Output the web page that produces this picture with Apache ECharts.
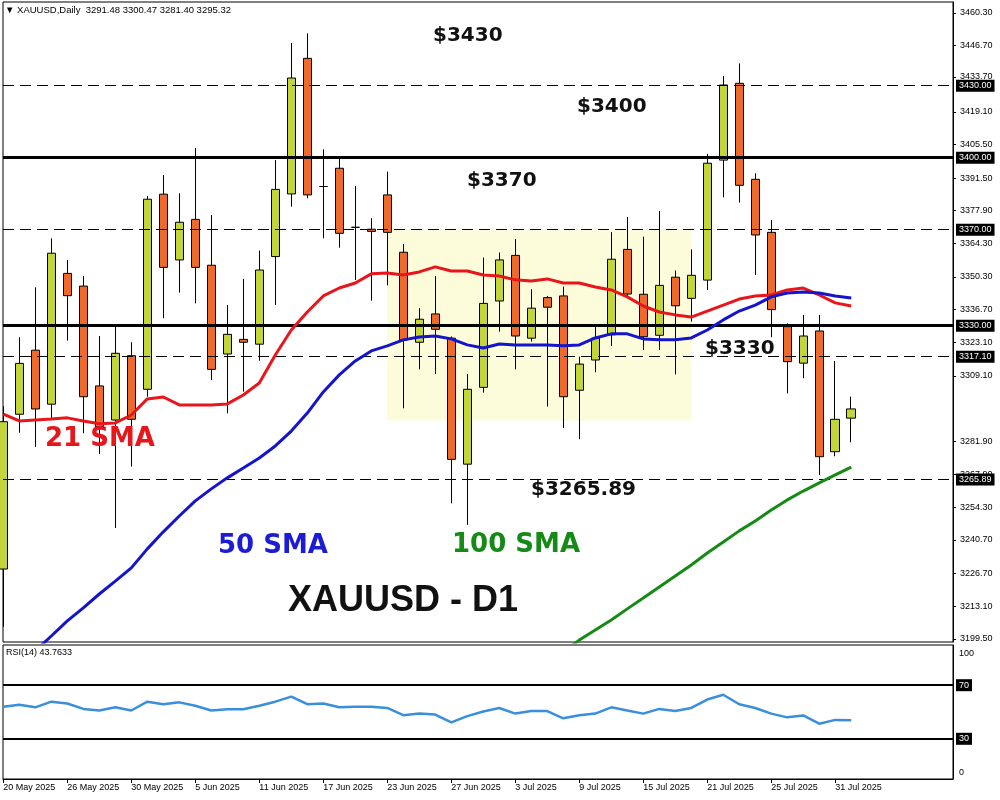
<!DOCTYPE html>
<html><head><meta charset="utf-8">
<script src="https://cdn.jsdelivr.net/npm/echarts@6/dist/echarts.min.js"></script>
<style>html,body{margin:0;padding:0;background:#fff}#c{width:1000px;height:800px}</style>
</head><body><div id="c"></div>
<script>
// ---------- data ----------
const dates = ['20 May 2025','21 May 2025','22 May 2025','23 May 2025','26 May 2025','27 May 2025','28 May 2025','29 May 2025','30 May 2025',
 '2 Jun 2025','3 Jun 2025','4 Jun 2025','5 Jun 2025','6 Jun 2025','9 Jun 2025','10 Jun 2025','11 Jun 2025','12 Jun 2025','13 Jun 2025',
 '16 Jun 2025','17 Jun 2025','18 Jun 2025','19 Jun 2025','20 Jun 2025','23 Jun 2025','24 Jun 2025','25 Jun 2025','26 Jun 2025','27 Jun 2025',
 '30 Jun 2025','1 Jul 2025','2 Jul 2025','3 Jul 2025','4 Jul 2025','7 Jul 2025','8 Jul 2025','9 Jul 2025','10 Jul 2025','11 Jul 2025',
 '14 Jul 2025','15 Jul 2025','16 Jul 2025','17 Jul 2025','18 Jul 2025','21 Jul 2025','22 Jul 2025','23 Jul 2025','24 Jul 2025','25 Jul 2025',
 '28 Jul 2025','29 Jul 2025','30 Jul 2025','31 Jul 2025','1 Aug 2025'];
const dateLabelIdx = [0,4,8,12,16,20,24,28,32,36,40,44,48,52];

const opens  = [3228.6,3293.1,3319.8,3297.3,3351.8,3346.5,3304.9,3290.7,3317.5,3303.5,3384.8,3357.4,3374.3,3355.2,3318.2,3324.3,3322.3,3358.8,3384.9,3441.4,
 3388.0,3395.6,3371.0,3370.2,3384.5,3360.6,3323.1,3334.9,3324.8,3272.3,3304.3,3340.3,3359.3,3324.8,3341.7,3342.4,3303.1,3315.7,3326.2,3361.8,
 3343.1,3326.0,3350.2,3341.4,3349.0,3399.0,3431.0,3391.0,3368.9,3329.6,3314.4,3327.8,3277.5,3291.48];
const closes = [3290.0,3314.3,3295.3,3360.2,3342.5,3300.4,3287.9,3318.5,3291.0,3382.7,3354.3,3373.1,3354.3,3311.8,3326.4,3323.1,3353.2,3386.8,3433.2,3384.5,
 3388.0,3368.5,3371.0,3369.3,3368.9,3324.0,3332.7,3328.5,3274.3,3303.5,3339.3,3357.4,3325.7,3337.3,3337.7,3300.4,3314.0,3324.8,3357.7,3343.2,
 3325.4,3346.8,3338.3,3351.0,3397.7,3430.3,3388.5,3367.8,3336.7,3315.0,3325.7,3275.4,3291.0,3295.32];
const lows   = [3204.5,3285.4,3279.5,3290.7,3323.8,3285.2,3276.5,3245.7,3271.3,3300.4,3333.1,3343.8,3339.3,3307.3,3293.5,3302.5,3315.4,3338.6,3379.6,3383.1,
 3366.4,3362.5,3349.0,3340.4,3346.8,3295.6,3311.8,3309.9,3256.0,3247.0,3302.1,3327.5,3311.8,3323.4,3296.3,3287.3,3282.7,3310.6,3321.5,3342.4,
 3319.9,3319.9,3309.7,3331.7,3344.9,3383.5,3381.3,3351.1,3325.2,3301.8,3308.1,3267.8,3275.6,3281.40];
const highs  = [3296.5,3325.2,3346.0,3366.4,3357.4,3350.7,3325.7,3329.6,3323.1,3384.0,3392.8,3385.2,3404.0,3376.1,3338.6,3349.5,3361.3,3399.0,3447.8,3451.8,
 3403.5,3399.8,3388.2,3374.8,3394.2,3364.1,3337.3,3350.7,3325.5,3309.9,3358.4,3360.5,3366.1,3345.2,3342.4,3346.3,3317.1,3329.4,3369.0,3375.3,
 3367.1,3377.8,3353.0,3361.8,3401.6,3434.1,3439.3,3393.5,3374.0,3331.0,3334.5,3334.5,3315.3,3300.47];

const sma21 = [3293.2,3290.3,3290.7,3291.1,3291.6,3290.3,3289.1,3289.5,3292.8,3299.5,3300.3,3297.0,3297.0,3297.0,3297.4,3301.1,3306.1,3317.8,3328.2,3335.7,
 3342.4,3345.7,3347.8,3351.6,3352.0,3351.1,3352.4,3354.5,3352.8,3352.8,3351.1,3350.7,3349.1,3348.6,3349.5,3347.8,3347.8,3346.1,3344.9,3342.0,
 3338.2,3335.7,3334.5,3333.6,3336.1,3338.6,3341.1,3342.4,3342.8,3344.9,3345.7,3342.8,3339.5,3338.2];
const sma50 = [3182.4,3188.2,3194.5,3200.7,3207.0,3212.4,3218.2,3223.6,3229.1,3237.0,3244.1,3250.7,3257.0,3262.0,3266.6,3270.7,3274.9,3279.9,3286.1,3293.6,
 3302.4,3309.5,3315.3,3319.5,3321.6,3324.1,3325.3,3325.7,3324.5,3322.0,3320.7,3322.4,3322.0,3322.0,3322.0,3321.6,3322.0,3324.9,3326.6,3326.6,
 3324.5,3324.1,3324.1,3324.9,3328.2,3332.4,3336.1,3338.6,3342.0,3343.6,3344.0,3343.6,3342.4,3341.5];
const sma100 = [null,null,null,null,null,null,null,null,null,null,null,null,null,null,null,null,null,null,null,null,
 null,null,null,null,null,null,null,null,null,null,null,null,null,null,null,3194.0,3199.0,3203.2,3207.4,3212.0,
 3216.5,3221.1,3225.7,3230.3,3235.3,3239.9,3244.5,3248.6,3253.2,3257.4,3261.1,3264.5,3267.8,3271.1];
const rsi14 = [53.9,55.4,53.5,57.7,56.3,52.3,51.1,53.5,51.1,57.7,55.8,57.2,54.7,51.1,52.1,52.1,54.7,57.7,61.5,55.8,
 56.3,53.5,54.0,54.0,53.0,47.6,48.8,48.1,42.2,46.9,50.4,53.0,48.8,50.7,50.7,45.3,47.6,48.8,53.5,51.1,
 48.8,52.3,50.7,53.0,59.3,62.9,55.8,53.0,48.8,46.0,47.4,41.3,44.1,43.7633];

const priceTicks = [3460.30,3446.70,3433.70,3419.10,3405.50,3391.50,3377.90,3364.30,3350.30,3336.70,3323.10,3309.10,
 3281.90,3267.90,3254.30,3240.70,3226.70,3213.10,3199.50];
const dashedLevels = [3430.00,3370.00,3317.10,3265.89];
const solidLevels = [3400.00,3330.00];
const lastPrice = 3295.32;
const rsiLevels = [70,30];
const zone = {fromIdx:24, toIdx:43, low:3290.5, high:3370.0};

// ---------- chart ----------
const BULL = '#c4d53c', BEAR = '#ef6a2a';
const XMIN = -0.02, XMAX = 59.36;
const candleData = dates.map((d,i)=>[i, opens[i], closes[i], lows[i], highs[i]]);
const pairs = arr => arr.map((v,i)=>[i, v]);
const boxLabel = {show:true, position:'end', distance:3, color:'#fff', backgroundColor:'#000',
  padding:[2,3,1,3], fontSize:9, fontFamily:'Arial', formatter:p=>Number(p.value).toFixed(2)};

const priceMarks = []
  .concat(dashedLevels.map(v=>({yAxis:v, lineStyle:{color:'#000',width:1,type:[11,6]}, label:boxLabel})))
  .concat(solidLevels.map(v=>({yAxis:v, lineStyle:{color:'#000',width:3,type:'solid'}, label:boxLabel})))
  .concat([{yAxis:lastPrice, lineStyle:{opacity:0,width:0}, label:boxLabel}]);

const ann = (text,x,y,color,font)=>({type:'text', x:x, y:y, z:50, silent:true,
  style:{text:text, fill:color, font:font, textVerticalAlign:'middle'}});
const PRICE_FONT = 'bold 20px "DejaVu Sans"';
const SMA_FONT = 'bold 26px "DejaVu Sans"';

const chart = echarts.init(document.getElementById('c'), null, {renderer:'canvas'});
chart.setOption({
  animation:false,
  backgroundColor:'#fff',
  grid:[
    {left:3, right:47, top:2, height:640, show:true, borderColor:'#000', borderWidth:1, backgroundColor:'#fff'},
    {left:3, right:47, top:645, height:134, show:true, borderColor:'#000', borderWidth:1, backgroundColor:'#fff'}
  ],
  xAxis:[
    {gridIndex:0, type:'value', min:XMIN, max:XMAX, show:false, splitLine:{show:false}, axisLine:{onZero:false}},
    {gridIndex:1, type:'value', min:XMIN, max:XMAX, position:'bottom', splitLine:{show:false},
     axisLine:{show:true, onZero:false, lineStyle:{color:'#000'}},
     axisTick:{show:true, length:4, customValues:dateLabelIdx, lineStyle:{color:'#000'}},
     axisLabel:{customValues:dateLabelIdx, formatter:v=>dates[Math.round(v)]||'', align:'left',
       color:'#000', fontSize:9, fontFamily:'Arial', margin:4}}
  ],
  yAxis:[
    {gridIndex:0, type:'value', position:'right', min:3198.2, max:3464.88, splitLine:{show:false},
     axisLine:{show:true, onZero:false, lineStyle:{color:'#000'}},
     axisTick:{show:true, inside:false, length:3, customValues:priceTicks, lineStyle:{color:'#000'}},
     axisLabel:{customValues:priceTicks, formatter:v=>Number(v).toFixed(2), color:'#000', fontSize:9, fontFamily:'Arial', margin:7}},
    {gridIndex:1, type:'value', position:'right', min:0, max:100, splitLine:{show:false},
     axisLine:{show:true, onZero:false, lineStyle:{color:'#000'}}, axisTick:{show:false},
     axisLabel:{customValues:[100], formatter:v=>String(Math.round(v)), verticalAlign:'top', padding:[4,0,0,0],
       color:'#000', fontSize:9, fontFamily:'Arial', margin:6}},
    {gridIndex:1, type:'value', position:'right', min:0, max:100, splitLine:{show:false},
     axisLine:{show:false, onZero:false}, axisTick:{show:false},
     axisLabel:{customValues:[0], formatter:v=>String(Math.round(v)), verticalAlign:'bottom', padding:[0,0,2,0],
       color:'#000', fontSize:9, fontFamily:'Arial', margin:6}}
  ],
  series:[
    {type:'candlestick', xAxisIndex:0, yAxisIndex:0, data:candleData, encode:{x:0, y:[1,2,3,4]},
     barWidth:9, z:2,
     itemStyle:{color:BULL, color0:BEAR, borderColor:'#000', borderColor0:'#000', borderWidth:1},
     markArea:{silent:true, z:1, itemStyle:{color:'#fcfcda'},
       data:[[{xAxis:zone.fromIdx, yAxis:zone.high},{xAxis:zone.toIdx, yAxis:zone.low}]]},
     markLine:{silent:true, symbol:['none','none'], z:5, animation:false, data:priceMarks}},
    {type:'line', name:'21 SMA', xAxisIndex:0, yAxisIndex:0, data:pairs(sma21), showSymbol:false, z:6,
     lineStyle:{color:'#e8151b', width:3}},
    {type:'line', name:'50 SMA', xAxisIndex:0, yAxisIndex:0, data:pairs(sma50), showSymbol:false, z:6,
     lineStyle:{color:'#1414cc', width:3}},
    {type:'line', name:'100 SMA', xAxisIndex:0, yAxisIndex:0, data:pairs(sma100), showSymbol:false, z:6,
     lineStyle:{color:'#158a15', width:3}},
    {type:'line', name:'RSI(14)', xAxisIndex:1, yAxisIndex:1, data:pairs(rsi14), showSymbol:false, z:6,
     lineStyle:{color:'#3a8fdc', width:2.5},
     markLine:{silent:true, symbol:['none','none'], z:5,
       data:rsiLevels.map(v=>({yAxis:v, lineStyle:{color:'#000', width:2, type:'solid'},
         label:Object.assign({}, boxLabel, {formatter:p=>String(Math.round(p.value))})}))}}
  ],
  graphic:[
    {type:'text', x:5, y:10, z:50, style:{text:'\u25BC XAUUSD,Daily  3291.48 3300.47 3281.40 3295.32', fill:'#000', font:'9.5px Arial', textVerticalAlign:'middle'}},
    {type:'text', x:6, y:653, z:50, style:{text:'RSI(14) 43.7633', fill:'#000', font:'9px Arial', textVerticalAlign:'middle'}},
    ann('$3430', 433, 36, '#111', PRICE_FONT),
    ann('$3400', 577, 107, '#111', PRICE_FONT),
    ann('$3370', 467, 181, '#111', PRICE_FONT),
    ann('$3330', 705, 349, '#111', PRICE_FONT),
    ann('$3265.89', 531, 490, '#111', PRICE_FONT),
    ann('21 SMA', 45, 439, '#e8151b', SMA_FONT),
    ann('50 SMA', 218, 546, '#1c1cd4', SMA_FONT),
    ann('100 SMA', 452, 545, '#168a16', SMA_FONT),
    ann('XAUUSD - D1', 288, 601, '#111', 'bold 36px Arial')
  ]
});
</script></body></html>
